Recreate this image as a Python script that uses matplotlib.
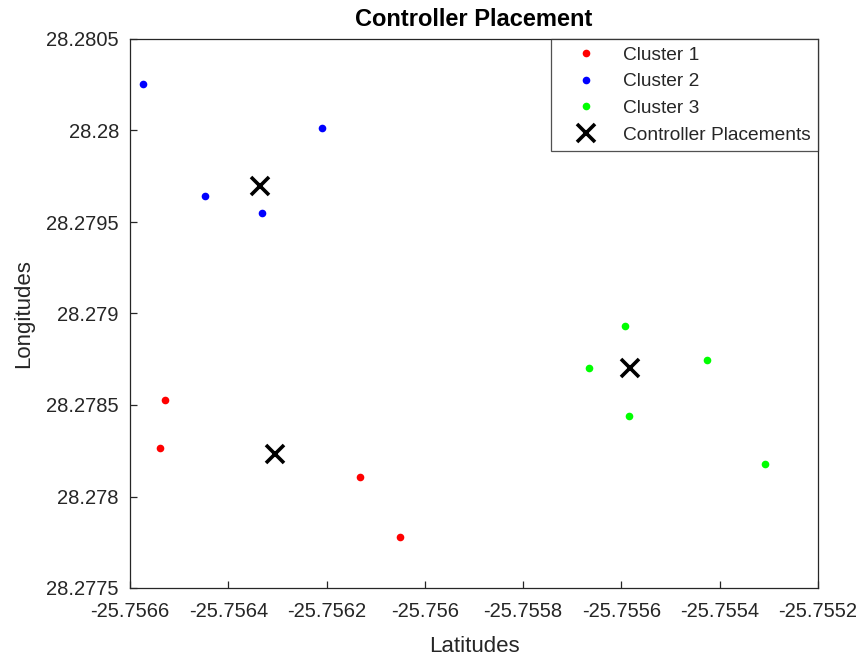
import matplotlib
matplotlib.use("Agg")
import matplotlib.pyplot as plt

plt.rcParams['font.family'] = ['Liberation Sans', 'DejaVu Sans']

c1_lat = [-25.756529, -25.756538, -25.756132, -25.756051]
c1_lon = [28.278529, 28.278267, 28.278105, 28.277777]
c2_lat = [-25.756574, -25.756447, -25.756332, -25.756209]
c2_lon = [28.280252, 28.279642, 28.279551, 28.280015]
c3_lat = [-25.755593, -25.755667, -25.755426, -25.755584, -25.755308]
c3_lon = [28.278933, 28.278700, 28.278746, 28.278440, 28.278176]
ctrl_lat = [-25.756335, -25.756304, -25.755582]
ctrl_lon = [28.279698, 28.278234, 28.278700]

xticks = [-25.7566, -25.7564, -25.7562, -25.756, -25.7558, -25.7556, -25.7554, -25.7552]
xticklabels = ['-25.7566', '-25.7564', '-25.7562', '-25.756', '-25.7558', '-25.7556', '-25.7554', '-25.7552']
yticks = [28.2775, 28.278, 28.2785, 28.279, 28.2795, 28.28, 28.2805]
yticklabels = ['28.2775', '28.278', '28.2785', '28.279', '28.2795', '28.28', '28.2805']

fig = plt.figure(figsize=(8.63, 6.57), dpi=100)
ax = fig.add_axes([130/863, 1-588/657, 688/863, 549/657])

ax.plot(c1_lat, c1_lon, 'o', color=(1, 0, 0), markersize=5.5, markeredgewidth=0, label='Cluster 1')
ax.plot(c2_lat, c2_lon, 'o', color=(0, 0, 1), markersize=5.5, markeredgewidth=0, label='Cluster 2')
ax.plot(c3_lat, c3_lon, 'o', color=(0, 1, 0), markersize=5.5, markeredgewidth=0, label='Cluster 3')
ax.plot(ctrl_lat, ctrl_lon, 'x', color='black', markersize=13, markeredgewidth=2.6, label='Controller Placements')

ax.set_xlim(-25.7566, -25.7552)
ax.set_ylim(28.2775, 28.2805)
ax.set_xticks(xticks)
ax.set_xticklabels(xticklabels)
ax.set_yticks(yticks)
ax.set_yticklabels(yticklabels)

dark = '#262626'
for s in ax.spines.values():
    s.set_color(dark)
    s.set_linewidth(0.9)
ax.tick_params(axis='both', direction='in', length=5, width=0.9, color=dark,
               labelcolor=dark, labelsize=14.5, top=False, right=False)
ax.tick_params(axis='x', pad=10)
ax.tick_params(axis='y', pad=8)

ax.set_xlabel('Latitudes', fontsize=16, color=dark, labelpad=11)
ax.set_ylabel('Longitudes', fontsize=16, color=dark, labelpad=9)
ax.set_title('Controller Placement', fontsize=17, fontweight='bold', color='black', pad=9)

leg = ax.legend(loc='upper right', fontsize=13.8, borderaxespad=0, frameon=True,
                fancybox=False, edgecolor=dark, labelspacing=0.48, handlelength=2.95,
                handletextpad=0.45, borderpad=0.38)
leg.get_frame().set_linewidth(0.9)
for t in leg.get_texts():
    t.set_color(dark)

fig.savefig('out.png', dpi=100)
